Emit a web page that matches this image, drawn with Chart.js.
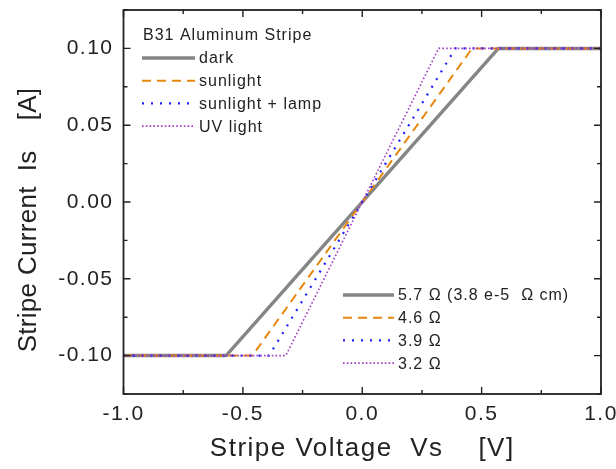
<!DOCTYPE html>
<html>
<head>
<meta charset="utf-8">
<script src="https://cdn.jsdelivr.net/npm/chart.js@4.4.0/dist/chart.umd.min.js"></script>
<style>
  html, body { margin: 0; padding: 0; background: #fff; }
  #wrap { width: 616px; height: 469px; }
</style>
</head>
<body>
<div id="wrap"><canvas id="ivChart" width="616" height="469"></canvas></div>
<script>
// Dados (tensão em V, corrente em A)
const seriesNames = ['dark', 'sunlight', 'sunlight + lamp', 'UV light'];
const resistLabels = ['5.7 \u03A9 (3.8 e-5  \u03A9 cm)', '4.6 \u03A9', '3.9 \u03A9', '3.2 \u03A9'];
const legendTitle = 'B31 Aluminum Stripe';
const xTitle = 'Stripe Voltage  Vs    [V]';
const yTitle = 'Stripe Current  Is    [A]';

const darkV = [-1.0, -0.57, 0.57, 1.0];
const darkI = [-0.10, -0.10, 0.10, 0.10];
const sunV = [-1.0, -0.46, 0.46, 1.0];
const sunI = [-0.10, -0.10, 0.10, 0.10];
const lampV = [-1.0, -0.39, 0.39, 1.0];
const lampI = [-0.10, -0.10, 0.10, 0.10];
const uvV = [-1.0, -0.32, 0.32, 1.0];
const uvI = [-0.10, -0.10, 0.10, 0.10];

const xTicks = [-1.0, -0.5, 0.0, 0.5, 1.0];
const yTicks = [-0.10, -0.05, 0.00, 0.05, 0.10];

const FONT = '"Liberation Sans", Arial, sans-serif';

const styles = [
  { color: '#858585', width: 3.5, dash: [] },
  { color: '#e8870e', width: 2, dash: [9, 6] },
  { color: '#1f1fff', width: 2.2, dash: [2, 7] },
  { color: '#a23cc4', width: 1.6, dash: [1.6, 2.2] }
];

function pts(xs, ys) {
  return xs.map((x, i) => ({ x: x, y: ys[i] }));
}

const allData = [pts(darkV, darkI), pts(sunV, sunI), pts(lampV, lampI), pts(uvV, uvI)];

function noPad(s) {
  s.paddingTop = 0; s.paddingBottom = 0; s.paddingLeft = 0; s.paddingRight = 0;
}

// Desenha moldura, ticks internos, títulos e as duas legendas
const framePlugin = {
  id: 'frame',
  beforeDraw(chart) {
    chart.ctx.letterSpacing = '1.5px'; // rótulos dos ticks um pouco espaçados
  },
  afterDraw(chart) {
    const ctx = chart.ctx;
    const a = chart.chartArea;
    const xs = chart.scales.x;
    const ys = chart.scales.y;
    ctx.save();
    ctx.strokeStyle = '#222';
    ctx.lineWidth = 1.8;
    ctx.strokeRect(a.left, a.top, a.right - a.left, a.bottom - a.top);

    ctx.lineWidth = 1.4;
    ctx.beginPath();
    for (let v = -1.0; v <= 1.0001; v += 0.25) {
      const px = xs.getPixelForValue(v);
      const len = Math.abs(Math.round(v * 4)) % 2 === 0 ? 7 : 4;
      ctx.moveTo(px, a.bottom); ctx.lineTo(px, a.bottom - len);
      ctx.moveTo(px, a.top); ctx.lineTo(px, a.top + len);
    }
    for (let v = -0.125; v <= 0.1251; v += 0.025) {
      const py = ys.getPixelForValue(v);
      const len = Math.abs(Math.round(v * 40)) % 2 === 0 ? 7 : 4;
      ctx.moveTo(a.left, py); ctx.lineTo(a.left + len, py);
      ctx.moveTo(a.right, py); ctx.lineTo(a.right - len, py);
    }
    ctx.stroke();

    // títulos dos eixos
    ctx.fillStyle = '#222';
    ctx.font = '26px ' + FONT;
    ctx.textAlign = 'center';
    ctx.textBaseline = 'middle';
    ctx.letterSpacing = '1.5px';
    ctx.fillText(xTitle, (a.left + a.right) / 2, 449);
    ctx.save();
    ctx.letterSpacing = '0.3px';
    ctx.translate(29, 220);
    ctx.rotate(-Math.PI / 2);
    ctx.fillText(yTitle, 0, 0);
    ctx.restore();

    // legendas
    ctx.letterSpacing = '1px';
    ctx.textAlign = 'left';
    ctx.font = '16px ' + FONT;
    ctx.fillText(legendTitle, 143, 36);

    function item(x0, x1, y, s, label) {
      ctx.strokeStyle = s.color;
      ctx.lineWidth = s.width;
      ctx.setLineDash(s.dash);
      ctx.beginPath();
      ctx.moveTo(x0, y); ctx.lineTo(x1, y);
      ctx.stroke();
      ctx.setLineDash([]);
      ctx.fillStyle = '#222';
      ctx.fillText(label, x1 + 4, y + 1);
    }
    seriesNames.forEach((n, i) => item(142, 195, 58 + i * 22.7, styles[i], n));
    resistLabels.forEach((n, i) => item(343, 394, 295 + i * 22.7, styles[i], n));
    ctx.restore();
  }
};

const ctx = document.getElementById('ivChart').getContext('2d');
const ivChart = new Chart(ctx, {
  type: 'scatter',
  data: {
    datasets: allData.map((d, i) => ({
      label: seriesNames[i],
      data: d,
      showLine: true,
      borderColor: styles[i].color,
      borderWidth: styles[i].width,
      borderDash: styles[i].dash,
      pointRadius: 0,
      fill: false,
      order: 4 - i
    }))
  },
  options: {
    responsive: false,
    animation: false,
    layout: { padding: { top: 10, right: 15, left: 0, bottom: 0 } },
    plugins: {
      legend: { display: false },
      tooltip: { enabled: false }
    },
    scales: {
      x: {
        type: 'linear',
        min: -1.0,
        max: 1.0,
        grid: { display: false, drawTicks: false },
        border: { display: false },
        afterBuildTicks: (s) => { s.ticks = xTicks.map(v => ({ value: v })); },
        afterFit: (s) => { s.height = 75; noPad(s); },
        ticks: {
          padding: 8,
          color: '#222',
          font: { family: FONT, size: 21 },
          maxRotation: 0,
          callback: (v) => Number(v).toFixed(1)
        }
      },
      y: {
        type: 'linear',
        min: -0.125,
        max: 0.125,
        grid: { display: false, drawTicks: false },
        border: { display: false },
        afterBuildTicks: (s) => { s.ticks = yTicks.map(v => ({ value: v })); },
        afterFit: (s) => { s.width = 123.5; noPad(s); },
        ticks: {
          padding: 10,
          color: '#222',
          font: { family: FONT, size: 21 },
          callback: (v) => Number(v).toFixed(2)
        }
      }
    }
  },
  plugins: [framePlugin]
});
</script>
</body>
</html>
